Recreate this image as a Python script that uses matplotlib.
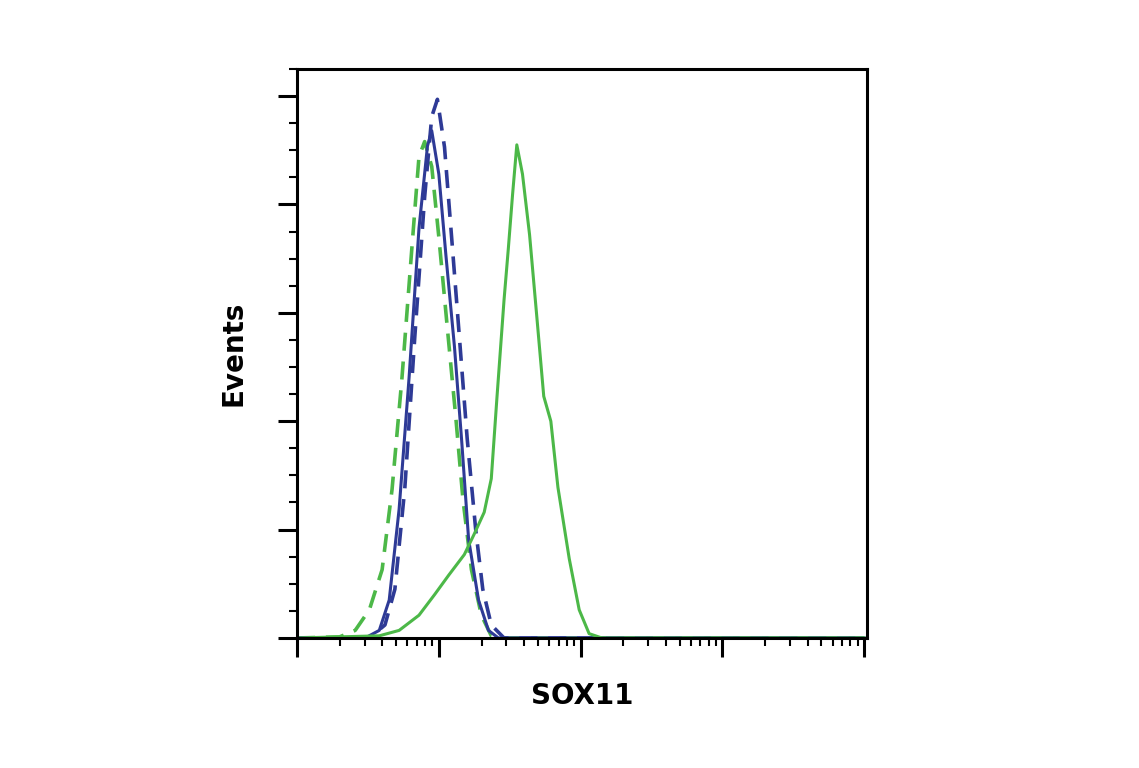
import numpy as np
import matplotlib
matplotlib.use("Agg")
import matplotlib.pyplot as plt
from matplotlib.ticker import LogLocator, NullFormatter, MultipleLocator

# decade positions (log10 of intensity) and event heights (major-tick units)
green_x = [0.0, 0.58, 0.72, 0.86, 0.97, 1.07, 1.18, 1.25, 1.32, 1.37, 1.41, 1.46, 1.49, 1.52, 1.55, 1.59, 1.64, 1.69, 1.74, 1.79, 1.84, 1.92, 1.99, 2.06, 2.15, 4.0]
green_y = [0.0, 0.02, 0.07, 0.21, 0.40, 0.58, 0.77, 0.96, 1.16, 1.47, 2.22, 3.12, 3.59, 4.09, 4.55, 4.28, 3.72, 2.98, 2.23, 2.00, 1.39, 0.73, 0.26, 0.04, 0.0, 0.0]

blue_x = [0.0, 0.48, 0.58, 0.65, 0.72, 0.79, 0.86, 0.92, 0.95, 1.00, 1.05, 1.11, 1.16, 1.21, 1.28, 1.35, 1.42, 4.0]
blue_y = [0.0, 0.0, 0.07, 0.35, 1.19, 2.40, 3.78, 4.54, 4.68, 4.28, 3.53, 2.69, 1.84, 0.91, 0.35, 0.07, 0.0, 0.0]

blue_d_x = [0.0, 0.51, 0.62, 0.69, 0.76, 0.83, 0.90, 0.95, 0.99, 1.04, 1.09, 1.14, 1.20, 1.26, 1.31, 1.37, 1.46, 4.0]
blue_d_y = [0.0, 0.0, 0.12, 0.45, 1.38, 2.77, 4.07, 4.81, 4.97, 4.53, 3.70, 2.86, 1.84, 1.00, 0.45, 0.12, 0.0, 0.0]

green_d_x = [0.0, 0.30, 0.41, 0.51, 0.60, 0.67, 0.74, 0.81, 0.86, 0.90, 0.95, 1.00, 1.06, 1.12, 1.17, 1.23, 1.30, 1.37, 1.42, 4.0]
green_d_y = [0.0, 0.01, 0.07, 0.26, 0.63, 1.37, 2.40, 3.60, 4.44, 4.58, 4.35, 3.70, 2.86, 2.03, 1.28, 0.63, 0.21, 0.02, 0.0, 0.0]

GREEN = "#4cb848"
BLUE = "#2e3a96"

fig = plt.figure(figsize=(11.39, 7.68), dpi=100)
ax = fig.add_axes([0.2608, 0.1693, 0.5004, 0.7409])

def X(a):
    return 10 ** np.asarray(a)

ax.plot(X(green_d_x), green_d_y, color=GREEN, lw=2.6, ls=(0, (5, 3)))
ax.plot(X(blue_d_x), blue_d_y, color=BLUE, lw=2.6, ls=(0, (5, 3)))
ax.plot(X(blue_x), blue_y, color=BLUE, lw=2.2)
ax.plot(X(green_x), green_y, color=GREEN, lw=2.2)

ax.set_xscale("log")
ax.set_xlim(1, 10 ** 4.02)
ax.set_ylim(0, 5.25)
ax.xaxis.set_major_locator(LogLocator(base=10, numticks=10))
ax.xaxis.set_minor_locator(LogLocator(base=10, subs=np.arange(2, 10), numticks=100))
ax.xaxis.set_major_formatter(NullFormatter())
ax.xaxis.set_minor_formatter(NullFormatter())
ax.yaxis.set_major_locator(MultipleLocator(1))
ax.yaxis.set_minor_locator(MultipleLocator(0.25))
ax.set_yticklabels([])
ax.tick_params(which="major", direction="out", length=14, width=2.2)
ax.tick_params(which="minor", direction="out", length=6, width=1.5)
for s in ax.spines.values():
    s.set_linewidth(2.2)

ax.set_xlabel("SOX11", fontsize=20, fontweight="bold", labelpad=14)
ax.set_ylabel("Events", fontsize=20, fontweight="bold", labelpad=18)

fig.savefig("out.png", dpi=100)
